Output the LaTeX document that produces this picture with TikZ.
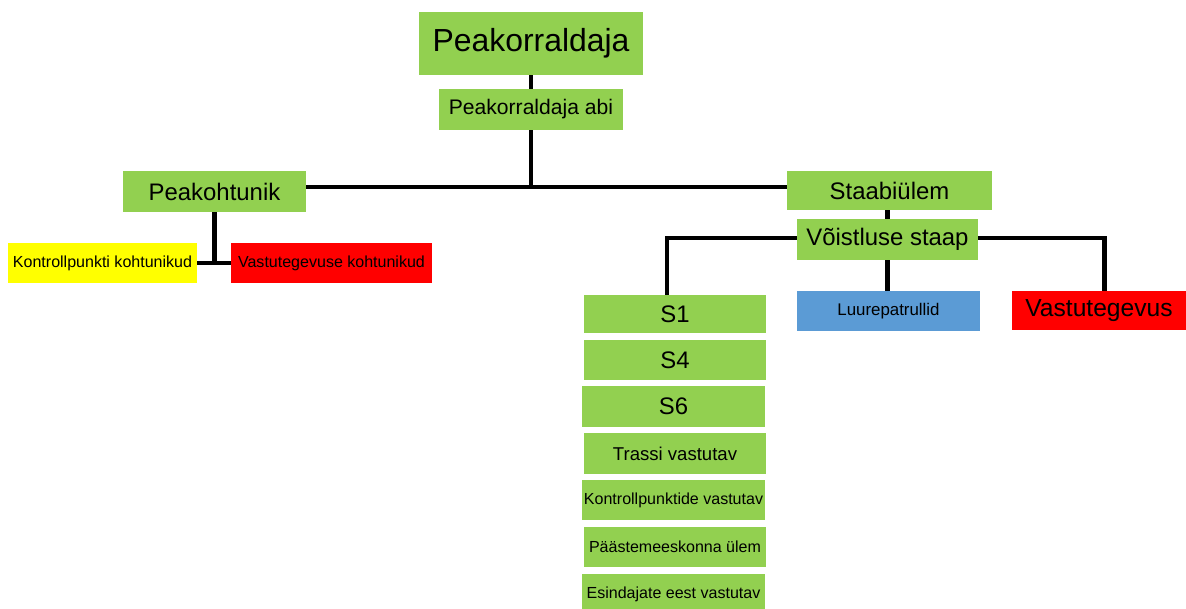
\documentclass[tikz,border=0pt]{standalone}
\usepackage{fontspec}
\setmainfont{Liberation Sans}
\usepackage{tikz}
\definecolor{roheline}{HTML}{92D050}
\definecolor{sinine}{HTML}{5B9BD5}
\definecolor{kollane}{HTML}{FFFF00}
\definecolor{punane}{HTML}{FF0000}

\begin{document}
\begin{tikzpicture}[x=0.025cm,y=-0.025cm,
  kast/.style={fill=roheline,inner sep=0pt,text=black},
  suur/.style={font=\fontsize{17}{19}\selectfont},
  vaike/.style={font=\fontsize{11.4}{13}\selectfont},
  joon/.style={line width=3.5pt,black}]
                      \useasboundingbox(0,0)rectangle(1186,609);
                      \node[kast,minimum width=5.6cm,minimum height=1.575cm,font=\fontsize{22.7}{24}\selectfont](pk)at(531,43.5){Peakorraldaja};
                      \node[kast,minimum width=4.575cm,minimum height=1.025cm,font=\fontsize{15}{17}\selectfont](abi)at(531,109.5){Peakorraldaja abi};
                      \node[kast,suur,minimum width=4.575cm,minimum height=1.025cm](pko)at(214.5,191.5){Peakohtunik};
                      \node[kast,suur,minimum width=5.125cm,minimum height=0.975cm](su)at(889.5,190.5){Staabiülem};
                      \node[kast,suur,minimum width=4.525cm,minimum height=1.025cm](vs)at(887.5,239.5){Võistluse staap};
                      \node[kast,vaike,fill=kollane,minimum width=4.725cm,minimum height=1cm](kpk)at(102.5,263){Kontrollpunkti kohtunikud};
                      \node[kast,vaike,fill=punane,minimum width=5.025cm,minimum height=1cm](vtk)at(331.5,263){Vastutegevuse kohtunikud};
                      \node[kast,fill=sinine,minimum width=4.575cm,minimum height=1cm,font=\fontsize{12}{14}\selectfont](luure)at(888.5,311){Luurepatrullid};
                      \node[kast,fill=punane,minimum width=4.35cm,minimum height=0.975cm,font=\fontsize{17.5}{19}\selectfont](vtg)at(1099,310.5){Vastutegevus};
                      \node[kast,suur,minimum width=4.55cm,minimum height=0.95cm](s1)at(675,314){S1};
                      \node[kast,suur,minimum width=4.55cm,minimum height=1cm](s4)at(675,360){S4};
                      \node[kast,suur,minimum width=4.575cm,minimum height=1.025cm](s6)at(673.5,406.5){S6};
                      \node[kast,minimum width=4.55cm,minimum height=1.025cm,font=\fontsize{13.2}{15}\selectfont](trassi)at(675,453.5){Trassi vastutav};
                      \node[kast,vaike,minimum width=4.575cm,minimum height=1cm](kpv)at(673.5,500){Kontrollpunktide vastutav};
                      \node[kast,vaike,minimum width=4.55cm,minimum height=1cm](paaste)at(675,547){Päästemeeskonna ülem};
                      \node[kast,vaike,minimum width=4.575cm,minimum height=1cm](esind)at(673.5,594){Esindajate eest vastutav};
                      \coordinate(j1)at(531,187);
                      \coordinate(j2)at(667,238);
                      \draw[joon](pk)--(abi);
                      \draw[joon](abi.south)--(abi.south|-j1);
                      \draw[joon](pko.east|-j1)--(su.west|-j1);
                      \draw[joon](vs.north|-su.south)--(vs.north);
                      \draw[joon](vs.west|-j2)--(j2)--(j2|-s1.north);
                      \draw[joon](vs.east|-j2)-|([xshift=4pt]vtg.north);
                      \draw[joon](vs.south)--(vs.south|-luure.north);
                      \draw[joon](pko.south)--(pko.south|-vtk.west);
                      \draw[joon](kpk.east)--(vtk.west);
                  \end{tikzpicture}
\end{document}
